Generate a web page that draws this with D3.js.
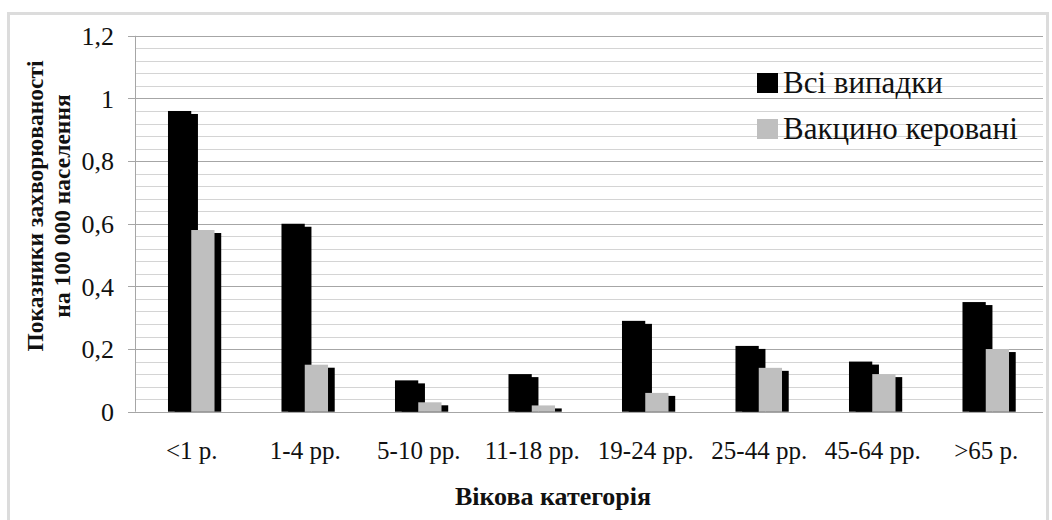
<!DOCTYPE html>
<html>
<head>
<meta charset="utf-8">
<script src="https://cdn.jsdelivr.net/npm/d3@7"></script>
<style>
  html, body { margin: 0; padding: 0; background: #fff; }
  svg { display: block; }
</style>
</head>
<body>
<svg id="chart" width="1052" height="520"></svg>
<script>
const categories = ["<1 р.", "1-4 рр.", "5-10 рр.", "11-18 рр.", "19-24 рр.", "25-44 рр.", "45-64 рр.", ">65 р."];
const allCases = [0.96, 0.60, 0.10, 0.12, 0.29, 0.21, 0.16, 0.35];
const vaccineControlled = [0.58, 0.15, 0.03, 0.02, 0.06, 0.14, 0.12, 0.20];
const seriesNames = ["Всі випадки", "Вакцино керовані"];
const seriesColors = ["#000000", "#bfbfbf"];
const yTicks = [0, 0.2, 0.4, 0.6, 0.8, 1, 1.2];
const yTickLabels = ["0", "0,2", "0,4", "0,6", "0,8", "1", "1,2"];
const yTitleLines = ["Показники захворюваності", "на 100 000 населення"];
const xTitle = "Вікова категорія";

const FONT = "'Liberation Serif', 'Tinos', 'Times New Roman', 'DejaVu Serif', serif";
const svg = d3.select("#chart");
const pLeft = 135, pRight = 1043, pTop = 35.8, pBottom = 411.7;

// outer border
svg.append("rect").attr("x", 8.5).attr("y", 13.5).attr("width", 1039).attr("height", 520)
  .attr("fill", "none").attr("stroke", "#dcdcdc").attr("stroke-width", 3);

const y = d3.scaleLinear().domain([0, 1.2]).range([pBottom, pTop]);
const x = d3.scaleBand().domain(categories).range([pLeft, pRight]);

const minor = d3.range(0, 1.2001, 0.04);
svg.append("g").selectAll("line").data(minor).join("line")
  .attr("x1", pLeft).attr("x2", pRight)
  .attr("y1", d => Math.round(y(d)) + 0.5).attr("y2", d => Math.round(y(d)) + 0.5)
  .attr("stroke", "#d4d4d4").attr("stroke-width", 1);
svg.append("g").selectAll("line").data(yTicks).join("line")
  .attr("x1", pLeft - 7).attr("x2", pRight)
  .attr("y1", d => Math.round(y(d)) + 0.5).attr("y2", d => Math.round(y(d)) + 0.5)
  .attr("stroke", "#a6a6a6").attr("stroke-width", 1);
svg.append("line").attr("x1", pLeft + 0.5).attr("x2", pLeft + 0.5)
  .attr("y1", y(1.2)).attr("y2", y(0)).attr("stroke", "#a6a6a6");

svg.append("g").selectAll("text").data(yTicks).join("text")
  .attr("font-family", FONT).attr("fill", "#111")
  .attr("x", 114).attr("y", d => y(d)).attr("dy", "0.35em")
  .attr("text-anchor", "end").attr("font-size", 26)
  .text((d, i) => yTickLabels[i]);

const bw = x.bandwidth() * 0.205;
const sdx = 6.7, sdy = 3;
const bars = svg.append("g");
categories.forEach((c, i) => {
  const cx = x(c) + x.bandwidth() / 2 - 0.5;
  const vals = [allCases[i], vaccineControlled[i]];
  vals.forEach((v, s) => {
    const x0 = cx - bw + s * bw;
    bars.append("rect").attr("x", x0 + sdx).attr("y", y(v) + sdy)
      .attr("width", bw).attr("height", pBottom - y(v) - sdy).attr("fill", "#000");
    bars.append("rect").attr("x", x0).attr("y", y(v))
      .attr("width", bw).attr("height", pBottom - y(v)).attr("fill", seriesColors[s]);
  });
});

svg.append("g").selectAll("text").data(categories).join("text")
  .attr("font-family", FONT).attr("fill", "#111")
  .attr("x", d => x(d) + x.bandwidth() / 2).attr("y", 459)
  .attr("text-anchor", "middle").attr("font-size", 25)
  .text(d => d);

svg.append("text").attr("font-family", FONT).attr("fill", "#111")
  .attr("x", 553).attr("y", 505).attr("text-anchor", "middle")
  .attr("font-size", 26).attr("font-weight", "bold").text(xTitle);

const yt = svg.append("text").attr("font-family", FONT).attr("fill", "#111")
  .attr("transform", "translate(0,206) rotate(-90)")
  .attr("text-anchor", "middle").attr("font-size", 23.5).attr("font-weight", "bold");
yt.append("tspan").attr("x", 0).attr("y", 43).text(yTitleLines[0]);
yt.append("tspan").attr("x", 0).attr("y", 70).text(yTitleLines[1]);

const lg = svg.append("g");
seriesNames.forEach((n, i) => {
  const ly = 73 + i * 46;
  lg.append("rect").attr("x", 757).attr("y", ly).attr("width", 21).attr("height", 20)
    .attr("fill", seriesColors[i]);
  lg.append("text").attr("font-family", FONT).attr("fill", "#111")
    .attr("x", 783).attr("y", ly + 20).attr("font-size", 31).text(n);
});
</script>
</body>
</html>
